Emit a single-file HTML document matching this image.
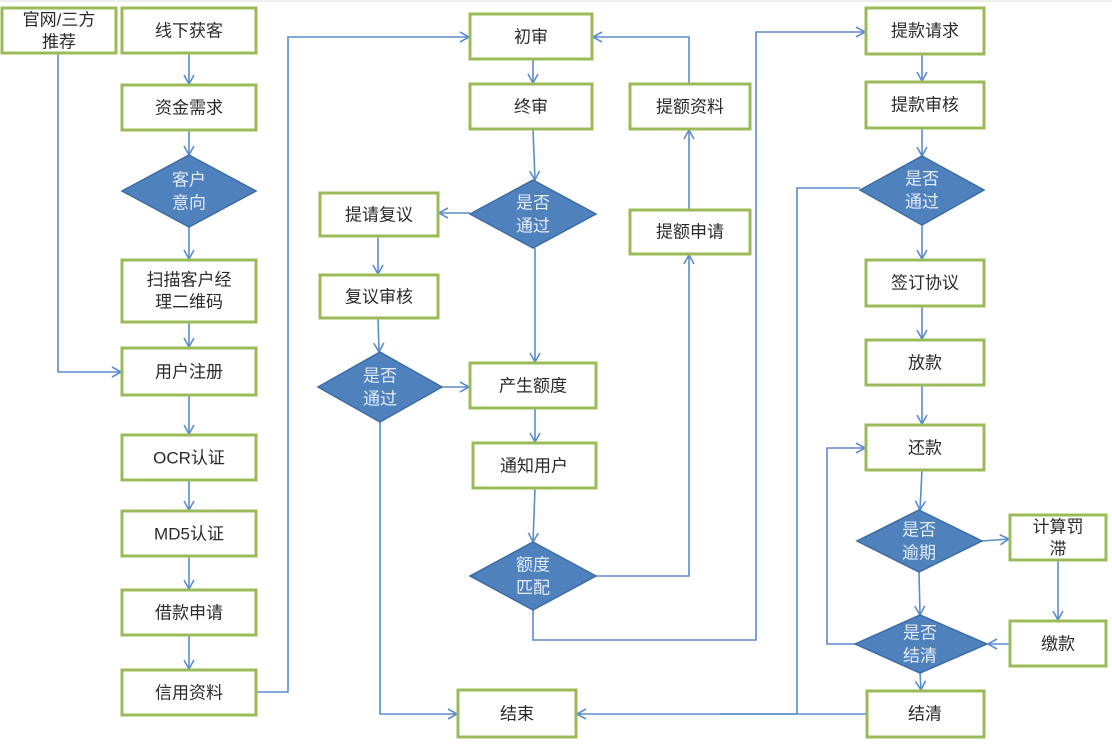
<!DOCTYPE html>
<html><head><meta charset="utf-8"><style>
html,body{margin:0;padding:0;background:#fff;}
svg{display:block;}
text{font-family:"Liberation Sans","Noto Sans CJK SC",sans-serif;font-size:17px;text-anchor:middle;dominant-baseline:central;}
.b{fill:#fff;stroke:#9bbb59;stroke-width:3;}
.t{fill:#2a2a2a;}
.d{fill:#4f81bd;stroke:#3d6da6;stroke-width:1.5;}
.dt{fill:#e4ecf7;}
.l{fill:none;stroke:#5b8ccc;stroke-width:1.6;}
</style></head><body>
<svg width="1112" height="745" viewBox="0 0 1112 745">
<defs><marker id="a" markerWidth="12" markerHeight="12" refX="10" refY="6" orient="auto" markerUnits="userSpaceOnUse"><path d="M1,1 L10,6 L1,11" fill="none" stroke="#5b8ccc" stroke-width="1.6"/></marker></defs>
<line x1="0" y1="1" x2="1112" y2="1" stroke="#ddd"/>
<!-- connectors -->
<g class="l" marker-end="url(#a)">
<polyline points="58,53 58,372 121,372"/>
<line x1="189" y1="53" x2="189" y2="84"/>
<line x1="189" y1="130" x2="189" y2="155"/>
<line x1="189" y1="227" x2="189" y2="259"/>
<line x1="189" y1="322" x2="189" y2="347"/>
<line x1="189" y1="395" x2="189" y2="434"/>
<line x1="189" y1="480" x2="189" y2="510"/>
<line x1="189" y1="556" x2="189" y2="589"/>
<line x1="189" y1="635" x2="189" y2="669"/>
<polyline points="256,692 288,692 288,37 469,37"/>
<line x1="533" y1="59" x2="533" y2="83"/>
<line x1="533" y1="129" x2="535" y2="180"/>
<line x1="470" y1="213" x2="439" y2="213"/>
<line x1="378" y1="236" x2="378" y2="274"/>
<line x1="378" y1="318" x2="379" y2="352"/>
<line x1="442" y1="387" x2="469" y2="387"/>
<polyline points="380,422 380,714 457,714"/>
<line x1="535" y1="248" x2="535" y2="362"/>
<line x1="535" y1="408" x2="535" y2="442"/>
<line x1="535" y1="488" x2="533" y2="542"/>
<polyline points="596,576 689,576 689,255"/>
<line x1="689" y1="210" x2="689" y2="130"/>
<polyline points="689,84 689,37 593,37"/>
<polyline points="533,610 533,640 756,640 756,32 865,32"/>
<line x1="922" y1="54" x2="922" y2="81"/>
<line x1="922" y1="128" x2="922" y2="156"/>
<line x1="922" y1="225" x2="922" y2="259"/>
<line x1="922" y1="306" x2="922" y2="339"/>
<line x1="922" y1="385" x2="922" y2="424"/>
<line x1="922" y1="470" x2="920" y2="510"/>
<line x1="919" y1="572" x2="920" y2="615"/>
<line x1="920" y1="673" x2="921" y2="690"/>
<polyline points="860,188 797,188 797,714 577,714"/>
<line x1="982" y1="541" x2="1009" y2="539"/>
<line x1="1058" y1="560" x2="1058" y2="620"/>
<line x1="1010" y1="644" x2="988" y2="644"/>
<polyline points="855,644 827,644 827,448 865,448"/>
</g>
<line class="l" x1="867" y1="714" x2="720" y2="714"/>
<!-- boxes -->
<g>
<rect class="b" x="2" y="8" width="114" height="45"/><text class="t" x="59" y="20">官网/三方</text><text class="t" x="59" y="42">推荐</text>
<rect class="b" x="122" y="8" width="134" height="45"/><text class="t" x="189" y="31">线下获客</text>
<rect class="b" x="122" y="85" width="134" height="45"/><text class="t" x="189" y="108">资金需求</text>
<rect class="b" x="122" y="260" width="134" height="62"/><text class="t" x="189" y="280">扫描客户经</text><text class="t" x="189" y="302">理二维码</text>
<rect class="b" x="122" y="348" width="134" height="47"/><text class="t" x="189" y="372">用户注册</text>
<rect class="b" x="122" y="435" width="134" height="45"/><text class="t" x="189" y="458">OCR认证</text>
<rect class="b" x="122" y="511" width="134" height="45"/><text class="t" x="189" y="534">MD5认证</text>
<rect class="b" x="122" y="590" width="134" height="45"/><text class="t" x="189" y="613">借款申请</text>
<rect class="b" x="122" y="670" width="134" height="45"/><text class="t" x="189" y="693">信用资料</text>
<rect class="b" x="470" y="14" width="122" height="45"/><text class="t" x="531" y="37">初审</text>
<rect class="b" x="470" y="84" width="122" height="45"/><text class="t" x="531" y="107">终审</text>
<rect class="b" x="320" y="193" width="118" height="43"/><text class="t" x="379" y="215">提请复议</text>
<rect class="b" x="320" y="275" width="118" height="43"/><text class="t" x="379" y="297">复议审核</text>
<rect class="b" x="470" y="363" width="126" height="45"/><text class="t" x="533" y="386">产生额度</text>
<rect class="b" x="473" y="443" width="123" height="45"/><text class="t" x="534" y="466">通知用户</text>
<rect class="b" x="458" y="690" width="118" height="47"/><text class="t" x="517" y="714">结束</text>
<rect class="b" x="630" y="84" width="120" height="45"/><text class="t" x="690" y="107">提额资料</text>
<rect class="b" x="630" y="210" width="120" height="44"/><text class="t" x="690" y="232">提额申请</text>
<rect class="b" x="866" y="8" width="118" height="46"/><text class="t" x="925" y="31">提款请求</text>
<rect class="b" x="866" y="82" width="118" height="46"/><text class="t" x="925" y="105">提款审核</text>
<rect class="b" x="866" y="260" width="118" height="46"/><text class="t" x="925" y="283">签订协议</text>
<rect class="b" x="866" y="340" width="118" height="45"/><text class="t" x="925" y="363">放款</text>
<rect class="b" x="866" y="425" width="118" height="45"/><text class="t" x="925" y="448">还款</text>
<rect class="b" x="1010" y="515" width="96" height="45"/><text class="t" x="1058" y="527">计算罚</text><text class="t" x="1058" y="549">滞</text>
<rect class="b" x="1010" y="621" width="96" height="45"/><text class="t" x="1058" y="644">缴款</text>
<rect class="b" x="867" y="691" width="117" height="46"/><text class="t" x="925" y="714">结清</text>
</g>
<!-- diamonds -->
<polygon class="d" points="189,155 256,191 189,227 122,191"/><text class="dt" x="189" y="180">客户</text><text class="dt" x="189" y="203">意向</text>
<polygon class="d" points="533,180 596,214 533,248 470,214"/><text class="dt" x="533" y="203">是否</text><text class="dt" x="533" y="226">通过</text>
<polygon class="d" points="380,352 442,387 380,422 318,387"/><text class="dt" x="380" y="376">是否</text><text class="dt" x="380" y="399">通过</text>
<polygon class="d" points="533,542 596,576 533,610 470,576"/><text class="dt" x="533" y="565">额度</text><text class="dt" x="533" y="588">匹配</text>
<polygon class="d" points="922,156 984,190 922,225 860,190"/><text class="dt" x="922" y="179">是否</text><text class="dt" x="922" y="202">通过</text>
<polygon class="d" points="919,510 982,541 919,572 857,541"/><text class="dt" x="919" y="530">是否</text><text class="dt" x="919" y="553">逾期</text>
<polygon class="d" points="920,615 987,644 920,673 855,644"/><text class="dt" x="920" y="633">是否</text><text class="dt" x="920" y="656">结清</text>
</svg>
</body></html>
